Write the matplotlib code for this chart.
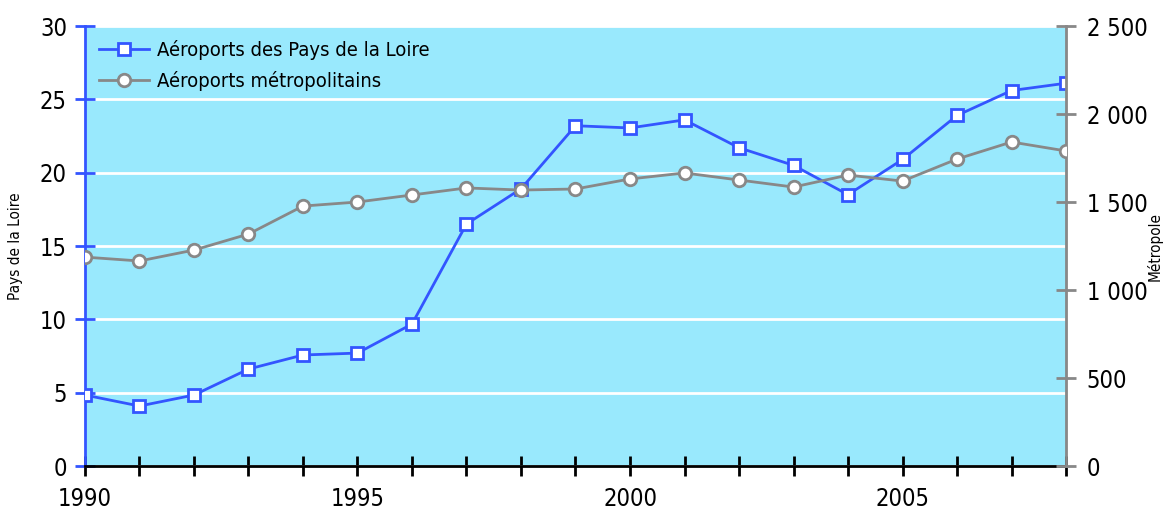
import matplotlib
matplotlib.use("Agg")
import matplotlib.pyplot as plt
from matplotlib.ticker import FuncFormatter, MultipleLocator

years = list(range(1990, 2009))
pays_loire = [4.84, 4.09, 4.84, 6.61, 7.57, 7.70, 9.68, 16.5, 18.9, 23.2, 23.05,
              23.6, 21.7, 20.5, 18.5, 20.9, 23.9, 25.6, 26.1]
metropole = [1187, 1165, 1227, 1318, 1477, 1500, 1540, 1580, 1568, 1574, 1631,
             1665, 1625, 1585, 1653, 1619, 1744, 1841, 1790]
label_loire = "Aéroports des Pays de la Loire"
label_metro = "Aéroports métropolitains"

plt.rcParams["font.family"] = "DejaVu Sans"
plt.rcParams["font.stretch"] = "condensed"

blue = "#3355ff"
grey = "#888888"

fig = plt.figure(figsize=(11.69, 5.12), dpi=100)
ax = fig.add_axes([0.0727, 0.0898, 0.8392, 0.8594])
ax.set_facecolor("#99e9fd")
ax2 = ax.twinx()

ax.plot(years, pays_loire, color=blue, lw=2, marker="s", ms=9, mfc="white",
        mec=blue, mew=2, label=label_loire, zorder=4)
ax2.plot(years, metropole, color=grey, lw=2, marker="o", ms=9, mfc="white",
         mec=grey, mew=2, label=label_metro, zorder=3)

ax.set_xlim(1990, 2008)
ax.set_ylim(0, 30)
ax2.set_ylim(0, 2500)
ax.yaxis.set_major_locator(MultipleLocator(5))
ax2.yaxis.set_major_locator(MultipleLocator(500))
ax2.yaxis.set_major_formatter(FuncFormatter(lambda v, p: f"{int(v):,}".replace(",", " ")))
ax.set_xticks(years)
ax.set_xticklabels([str(y) if y % 5 == 0 else "" for y in years])

ax.grid(axis="y", color="white", lw=2)
ax.set_axisbelow(True)

ax.spines["top"].set_visible(False)
ax2.spines["top"].set_visible(False)
ax.spines["left"].set_color(blue)
ax.spines["left"].set_linewidth(2)
ax.spines["bottom"].set_color("black")
ax.spines["bottom"].set_linewidth(2)
ax2.spines["right"].set_color(grey)
ax2.spines["right"].set_linewidth(2)
ax2.spines["left"].set_visible(False)
ax2.spines["bottom"].set_visible(False)

ax.tick_params(axis="y", direction="inout", length=14, width=2, color=blue,
               labelsize=17, pad=6)
ax.tick_params(axis="x", direction="inout", length=14, width=2, color="black",
               labelsize=17, pad=8)
ax2.tick_params(axis="y", direction="inout", length=14, width=2, color=grey,
                labelsize=17, pad=8)

ax.set_ylabel("Pays de la Loire", fontsize=11, labelpad=12)
ax2.set_ylabel("Métropole", fontsize=11)
ax2.yaxis.set_label_coords(1.082, 0.5)

h1, l1 = ax.get_legend_handles_labels()
h2, l2 = ax2.get_legend_handles_labels()
ax2.legend(h1 + h2, l1 + l2, loc="upper left", frameon=False, fontsize=14.5,
           handlelength=2.5, handletextpad=0.4, borderaxespad=0.3,
           labelspacing=0.55)

fig.savefig("out.png", dpi=100)
